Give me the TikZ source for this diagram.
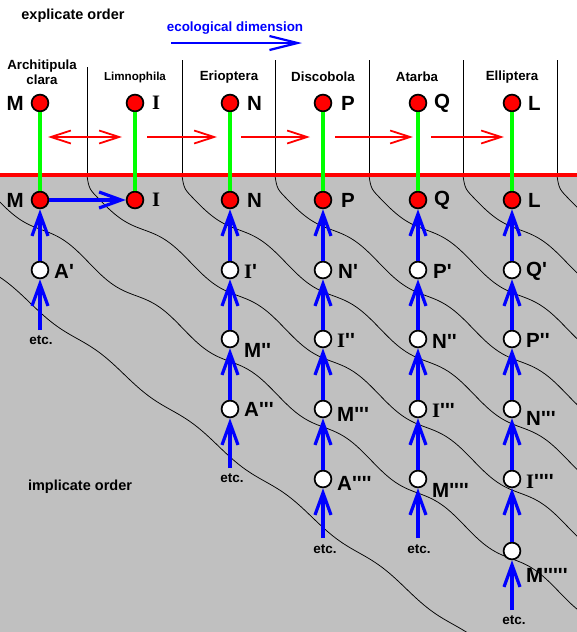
\documentclass[tikz,border=0pt]{standalone}
\usepackage{fontspec}
\setmainfont{Liberation Sans}
\newfontfamily\serifI{Liberation Serif}
\usetikzlibrary{arrows.meta}
\definecolor{bgray}{HTML}{C0C0C0}
\definecolor{pred}{HTML}{FF0000}
\definecolor{pgreen}{HTML}{00FF00}
\definecolor{pblue}{HTML}{0000FF}
\newcommand{\tq}{\textquotesingle}
\newcommand{\sI}{{\serifI\bfseries I}}
\begin{document}
\begin{tikzpicture}[x=1pt,y=-1pt,
  redn/.style={circle, draw=black, line width=1.7pt, fill=pred, minimum size=16.8pt, inner sep=0pt},
  whn/.style={redn, fill=white},
  lab/.style={font=\fontsize{20.5}{20.5}\selectfont\bfseries, inner sep=0pt, anchor=west},
  labl/.style={lab, anchor=east},
  hdr/.style={font=\fontsize{13.3}{15}\selectfont\bfseries, inner sep=0pt, align=center},
  etcf/.style={font=\fontsize{13.5}{14}\selectfont\bfseries, inner sep=0pt},
  title/.style={font=\fontsize{14.5}{14.5}\selectfont\bfseries, inner sep=0pt},
  barrow/.style={pblue, line width=3.2pt, -{Straight Barb[length=22pt,width=16pt]}},
  rarrow/.style={pred, line width=1.8pt},
  greenl/.style={pgreen, line width=3.2pt},
  divl/.style={black, line width=1pt},
  wavel/.style={black, line width=0.75pt}
]
\useasboundingbox (0,0) rectangle (577,632);
\fill[white] (0,0) rectangle (577,632);
\fill[bgray] (0,175) rectangle (577,632);

% wavy contour lines
\begin{scope}
\clip (0,176) rectangle (577,632);
\foreach \xd in {-15,87,182,275,369,463,557} {
  \draw[wavel] plot[domain=0:{sqrt(592-(\xd))}, samples=170, smooth]
    ({\xd+\x*\x}, {175+0.70*\x*\x+5*sin(((\x*\x)-10)/94*360)+15-11.9*exp(-min(\x*\x/1.5,10))});
}
\draw[wavel] plot[domain=0:475, samples=120, smooth] (\x, {280+0.76*\x+3*sin((\x-30)/94*360)});
\end{scope}

% dividers
\foreach \xx/\yt in {87/67,182/60,275/60,369/60,463/60,557/60}
  \draw[divl] (\xx,\yt) -- (\xx,175);
\draw[pred, line width=3.2pt] (0,175) -- (577,175);

% titles
\node[title] (expl) at (73,16) {explicate order};
\node[title, pblue, font=\fontsize{13.4}{13.4}\selectfont\bfseries] (eco) at (235,28) {ecological dimension};
\coordinate (ea) at (171,43);
\coordinate (eb) at (302,43);
\draw[pblue, line width=2.2pt, -{Straight Barb[length=28pt,width=14pt]}] (ea) -- (eb);
\node[title] (impl) at (80,487) {implicate order};

% column headers
\node[hdr] (h1) at (42,72.5) {Architipula\\clara};
\node[hdr, font=\fontsize{11.6}{13}\selectfont\bfseries] (h2) at (135,77) {Limnophila};
\node[hdr] (h3) at (229,77) {Erioptera};
\node[hdr] (h4) at (323,77) {Discobola};
\node[hdr] (h5) at (417,77) {Atarba};
\node[hdr] (h6) at (512,77) {Elliptera};

% red arrows
\coordinate (r1a) at (48,137);  \coordinate (r1b) at (122,137);
\coordinate (r2a) at (147,137); \coordinate (r2b) at (217,137);
\coordinate (r3a) at (241,137); \coordinate (r3b) at (310,137);
\coordinate (r4a) at (335,137); \coordinate (r4b) at (413,137);
\coordinate (r5a) at (431,137); \coordinate (r5b) at (504,137);
\draw[rarrow, {Straight Barb[length=20pt,width=13pt]}-{Straight Barb[length=20pt,width=13pt]}] (r1a) -- (r1b);
\draw[rarrow, -{Straight Barb[length=20pt,width=13pt]}] (r2a) -- (r2b);
\draw[rarrow, -{Straight Barb[length=20pt,width=13pt]}] (r3a) -- (r3b);
\draw[rarrow, -{Straight Barb[length=20pt,width=13pt]}] (r4a) -- (r4b);
\draw[rarrow, -{Straight Barb[length=20pt,width=13pt]}] (r5a) -- (r5b);

% red nodes
\node[redn] (t1) at (40,103) {};
\node[redn] (t2) at (135,103) {};
\node[redn] (t3) at (230,103) {};
\node[redn] (t4) at (323,103) {};
\node[redn] (t5) at (418,103) {};
\node[redn] (t6) at (512,103) {};
\node[redn] (b1) at (40,200) {};
\node[redn] (b2) at (135,200) {};
\node[redn] (b3) at (230,200) {};
\node[redn] (b4) at (323,200) {};
\node[redn] (b5) at (418,200) {};
\node[redn] (b6) at (512,200) {};
\foreach \i in {1,...,6} \draw[greenl] (t\i) -- (b\i);

\node[labl] (lt1) at (24,103) {M};
\node[lab] (lt2) at (152,103) {\sI};
\node[lab] (lt3) at (247,103) {N};
\node[lab] (lt4) at (341,103) {P};
\node[lab] (lt5) at (434,103) {Q};
\node[lab] (lt6) at (528,103) {L};
\node[labl] (lb1) at (24,200) {M};
\node[lab] (lb2) at (152,200) {\sI};
\node[lab] (lb3) at (247,200) {N};
\node[lab] (lb4) at (341,200) {P};
\node[lab] (lb5) at (434,200) {Q};
\node[lab] (lb6) at (528,200) {L};

% white nodes
\node[whn] (w11) at (40,270) {};
\node[whn] (w31) at (230,270) {};
\node[whn] (w32) at (230,339) {};
\node[whn] (w33) at (230,409) {};
\node[whn] (w41) at (323,270) {};
\node[whn] (w42) at (323,339) {};
\node[whn] (w43) at (323,409) {};
\node[whn] (w44) at (323,479) {};
\node[whn] (w51) at (418,270) {};
\node[whn] (w52) at (418,339) {};
\node[whn] (w53) at (418,409) {};
\node[whn] (w54) at (418,479) {};
\node[whn] (w61) at (512,270) {};
\node[whn] (w62) at (512,339) {};
\node[whn] (w63) at (512,409) {};
\node[whn] (w64) at (512,479) {};
\node[whn] (w65) at (512,551) {};

\node[lab] (lw11) at (54,271) {A\tq};
\node[lab] (lw31) at (244,271) {\sI\tq};
\node[lab] (lw32) at (244,350) {M\tq\tq};
\node[lab] (lw33) at (244,409) {A\tq\tq\tq};
\node[lab] (lw41) at (338,271) {N\tq};
\node[lab] (lw42) at (337,340) {\sI\tq\tq};
\node[lab] (lw43) at (337,414) {M\tq\tq\tq};
\node[lab] (lw44) at (337,483) {A\tq\tq\tq\tq};
\node[lab] (lw51) at (433,271) {P\tq};
\node[lab] (lw52) at (432,341) {N\tq\tq};
\node[lab] (lw53) at (432,410) {\sI\tq\tq\tq};
\node[lab] (lw54) at (432,490) {M\tq\tq\tq\tq};
\node[lab] (lw61) at (526,271) {Q\tq};
\node[lab] (lw62) at (526,340) {P\tq\tq};
\node[lab] (lw63) at (526,418) {N\tq\tq\tq};
\node[lab] (lw64) at (526,481) {\sI\tq\tq\tq\tq};
\node[lab] (lw65) at (526,575) {M\tq\tq\tq\tq\tq};

% etc.
\node[etcf] (etc1) at (41,340) {etc.};
\node[etcf] (etc3) at (232,478) {etc.};
\node[etcf] (etc4) at (325,549) {etc.};
\node[etcf] (etc5) at (419,549) {etc.};
\node[etcf] (etc6) at (514,620) {etc.};
\coordinate (e1) at (40,330);
\coordinate (e3) at (230,468);
\coordinate (e4) at (323,538);
\coordinate (e5) at (418,538);
\coordinate (e6) at (512,610);

% blue arrows
\draw[barrow] (b1) -- (b2);
\draw[barrow] (w11) -- (b1);
\draw[barrow] (e1) -- (w11);
\draw[barrow] (w31) -- (b3);
\draw[barrow] (w32) -- (w31);
\draw[barrow] (w33) -- (w32);
\draw[barrow] (e3) -- (w33);
\draw[barrow] (w41) -- (b4);
\draw[barrow] (w42) -- (w41);
\draw[barrow] (w43) -- (w42);
\draw[barrow] (w44) -- (w43);
\draw[barrow] (e4) -- (w44);
\draw[barrow] (w51) -- (b5);
\draw[barrow] (w52) -- (w51);
\draw[barrow] (w53) -- (w52);
\draw[barrow] (w54) -- (w53);
\draw[barrow] (e5) -- (w54);
\draw[barrow] (w61) -- (b6);
\draw[barrow] (w62) -- (w61);
\draw[barrow] (w63) -- (w62);
\draw[barrow] (w64) -- (w63);
\draw[barrow] (w65) -- (w64);
\draw[barrow] (e6) -- (w65);
\end{tikzpicture}
\end{document}
